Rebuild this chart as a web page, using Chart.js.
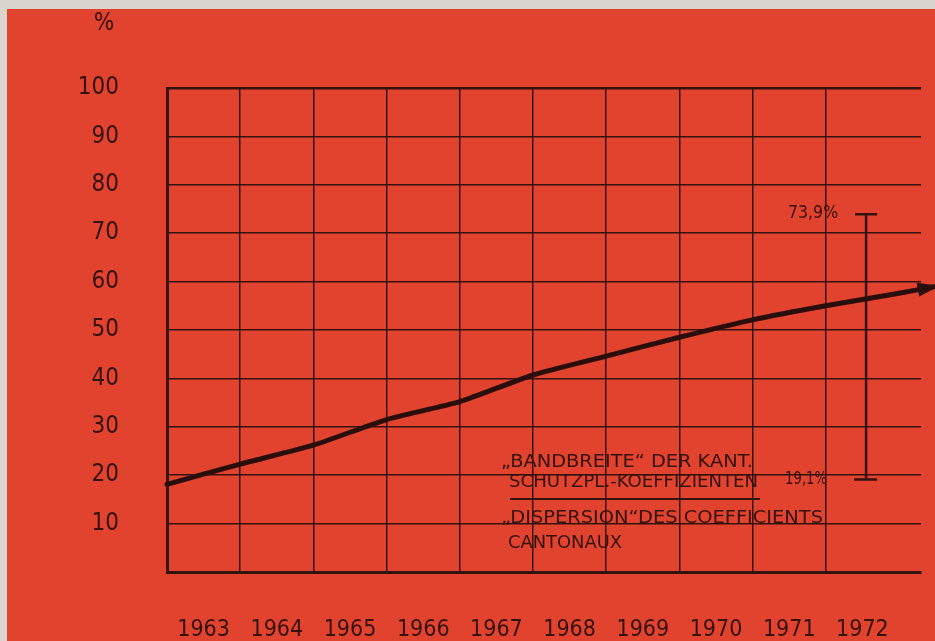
<!DOCTYPE html>
<html>
<head>
<meta charset="utf-8">
<script src="https://cdn.jsdelivr.net/npm/chart.js@4.4.0/dist/chart.umd.min.js"></script>
<style>
    html, body { margin: 0; padding: 0; background: #dad6ce; }
    #wrap { width: 935px; height: 641px; }
</style>
</head>
<body>
<div id="wrap"><canvas id="grafico" width="935" height="641"></canvas></div>
<script>
// dados
var anos = [1963, 1964, 1965, 1966, 1967, 1968, 1969, 1970, 1971, 1972];
var ticksY = [10, 20, 30, 40, 50, 60, 70, 80, 90, 100];
var linhaX = [1962.5, 1963.5, 1964.5, 1965.5, 1966.5, 1967.5, 1968.5, 1969.5, 1970.5, 1971.5, 1972.5, 1973.0];
var linhaY = [18.1, 22.3, 26.2, 31.5, 35.2, 40.7, 44.6, 48.5, 52.1, 55.0, 57.6, 59.0];
var bandaX = 1972.05;
var bandaMin = 19.1;
var bandaMax = 73.9;
var rotuloMax = "73,9%";
var rotuloMin = "19,1%";
var textoDe = ["\u201EBANDBREITE\u201C DER KANT.", "SCHUTZPL.-KOEFFIZIENTEN"];
var textoFr = ["\u201EDISPERSION\u201CDES COEFFICIENTS", "CANTONAUX"];

var vermelho = "#e2432f";
var escuro = "#34120e";
var fonte = "'DejaVu Sans Condensed', 'DejaVu Sans', sans-serif";

// escreve o texto comprimido na largura pedida
function textoLargura(ctx, txt, x, y, largura) {
    var w = ctx.measureText(txt).width;
    ctx.save();
    ctx.translate(x, y);
    ctx.scale(largura / w, 1);
    ctx.fillText(txt, 0, 0);
    ctx.restore();
}

var fundo = {
    id: "fundo",
    beforeDraw: function (chart) {
        var ctx = chart.ctx;
        ctx.save();
        ctx.fillStyle = "#dad6ce";
        ctx.fillRect(0, 0, chart.width, chart.height);
        ctx.fillStyle = vermelho;
        ctx.fillRect(7, 9, chart.width - 7, chart.height - 9);
        ctx.restore();
    }
};

var anotacoes = {
    id: "anotacoes",
    afterDatasetsDraw: function (chart) {
        var ctx = chart.ctx;
        var x = chart.scales.x;
        var y = chart.scales.y;
        ctx.save();

        // ponta da seta
        var pts = chart.getDatasetMeta(0).data;
        var p = pts[pts.length - 1], q = pts[pts.length - 2];
        var ang = Math.atan2(p.y - q.y, p.x - q.x);
        ctx.fillStyle = "#2a0e0b";
        ctx.beginPath();
        ctx.moveTo(p.x + 4 * Math.cos(ang), p.y + 4 * Math.sin(ang));
        ctx.lineTo(p.x - 18 * Math.cos(ang) - 7 * Math.sin(ang), p.y - 18 * Math.sin(ang) + 7 * Math.cos(ang));
        ctx.lineTo(p.x - 18 * Math.cos(ang) + 7 * Math.sin(ang), p.y - 18 * Math.sin(ang) - 7 * Math.cos(ang));
        ctx.closePath();
        ctx.fill();

        // barras da banda
        var bx = x.getPixelForValue(bandaX);
        ctx.strokeStyle = escuro;
        ctx.lineWidth = 2.5;
        ctx.beginPath();
        ctx.moveTo(bx - 11, y.getPixelForValue(bandaMax));
        ctx.lineTo(bx + 11, y.getPixelForValue(bandaMax));
        ctx.moveTo(bx - 12, y.getPixelForValue(bandaMin));
        ctx.lineTo(bx + 11, y.getPixelForValue(bandaMin));
        ctx.stroke();

        ctx.fillStyle = escuro;
        ctx.textBaseline = "middle";
        ctx.textAlign = "left";
        ctx.font = "18px " + fonte;
        textoLargura(ctx, rotuloMax, bx - 78, y.getPixelForValue(bandaMax) - 1, 50);
        textoLargura(ctx, rotuloMin, bx - 81, y.getPixelForValue(bandaMin), 42);

        // legenda de texto
        textoLargura(ctx, textoDe[0], 501, 462, 252);
        textoLargura(ctx, textoDe[1], 509, 482, 249);
        textoLargura(ctx, textoFr[0], 501, 518, 322);
        textoLargura(ctx, textoFr[1], 508, 543, 114);
        ctx.lineWidth = 2;
        ctx.beginPath();
        ctx.moveTo(510, 499);
        ctx.lineTo(760, 499);
        ctx.stroke();

        // unidade
        ctx.font = "24px " + fonte;
        ctx.textAlign = "center";
        ctx.fillText("%", 104, 24);
        ctx.restore();
    }
};

var dadosLinha = linhaX.map(function (v, i) { return { x: v, y: linhaY[i] }; });

new Chart(document.getElementById("grafico"), {
    type: "line",
    data: {
        datasets: [{
            data: dadosLinha,
            borderColor: "#2a0e0b",
            borderWidth: 5,
            borderCapStyle: "round",
            borderJoinStyle: "round",
            pointRadius: 0,
            tension: 0.2,
            clip: false
        },
        {
            data: [{ x: bandaX, y: bandaMin }, { x: bandaX, y: bandaMax }],
            borderColor: escuro,
            borderWidth: 2.5,
            pointRadius: 0,
            clip: false
        }]
    },
    options: {
        responsive: false,
        animation: false,
        layout: { padding: { left: 0, right: 14, top: 88, bottom: 0 } },
        plugins: {
            legend: { display: false },
            tooltip: { enabled: false }
        },
        scales: {
            x: {
                type: "linear",
                min: 1962.5,
                max: 1972.8,
                afterFit: function (scale) {
                    scale.height = 69;
                    scale.paddingLeft = 0;
                    scale.paddingRight = 0;
                },
                ticks: {
                    stepSize: 0.5,
                    autoSkip: false,
                    maxRotation: 0,
                    padding: 44,
                    color: escuro,
                    font: { family: fonte, size: 23 },
                    callback: function (v) { return anos.indexOf(v) >= 0 ? String(v) : ""; }
                },
                grid: {
                    drawTicks: false,
                    color: function (c) { return c.tick && (c.tick.value % 1) === 0.5 ? escuro : "rgba(0,0,0,0)"; },
                    lineWidth: 1.5
                },
                border: { display: true, color: escuro, width: 3 }
            },
            y: {
                min: 0,
                max: 100,
                afterFit: function (scale) {
                    scale.width = 167;
                    scale.paddingTop = 0;
                    scale.paddingBottom = 0;
                },
                afterBuildTicks: function (scale) {
                    scale.ticks = [{ value: 0 }].concat(ticksY.map(function (v) { return { value: v }; }));
                },
                ticks: {
                    padding: 48,
                    color: escuro,
                    font: { family: fonte, size: 24 },
                    callback: function (v) { return ticksY.indexOf(v) >= 0 ? String(v) : ""; }
                },
                grid: {
                    drawTicks: false,
                    color: escuro,
                    lineWidth: function (c) { return c.tick && c.tick.value === 100 ? 2.5 : 1.5; }
                },
                border: { display: true, color: escuro, width: 3 }
            }
        }
    },
    plugins: [fundo, anotacoes]
});
</script>
</body>
</html>
